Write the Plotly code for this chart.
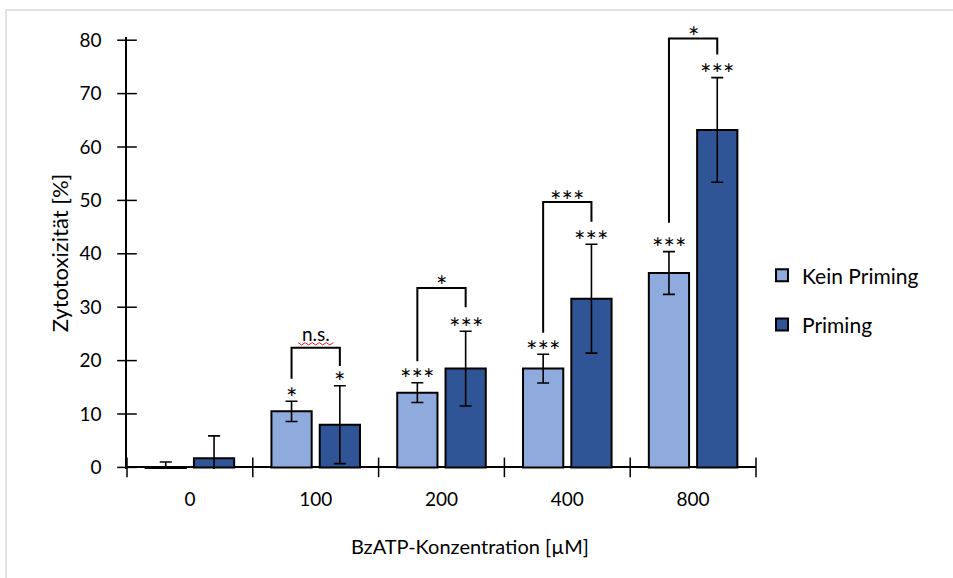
import numpy as np
import plotly.graph_objects as go

# --- data -------------------------------------------------------------
concentrations = ["0", "100", "200", "400", "800"]

kein_priming = [-0.2, 10.5, 14.0, 18.5, 36.4]
kein_priming_err = [1.2, 1.9, 1.85, 2.7, 4.0]
kein_priming_sig = ["", "*", "***", "***", "***"]

priming = [1.7, 8.0, 18.5, 31.6, 63.2]
priming_err = [4.2, 7.3, 7.0, 10.2, 9.8]
priming_sig = ["", "*", "***", "***", "***"]

# comparison brackets between the two series per concentration
bracket_left_end = [None, 16.6, 19.9, 25.2, 45.8]
bracket_right_end = [None, 19.0, 30.0, 46.0, 77.3]
bracket_top = [None, 22.4, 33.6, 49.7, 80.3]
bracket_label = ["", "n.s.", "*", "***", "*"]

y_ticks = [0, 10, 20, 30, 40, 50, 60, 70, 80]

# --- styling ----------------------------------------------------------
FONT = "Lato"
LIGHT = "#8FAADC"
DARK = "#2F5597"
BARGAP = 0.232
BARGROUPGAP = 0.167
OFFSET = (1 - BARGAP) / 4  # centre of each bar relative to group centre
STAR_SIZE = 27

W, H = 953, 578
M_L, M_R, M_T, M_B = 127, 197, 37, 109

x_pos = np.arange(len(concentrations))

plot_w = W - M_L - M_R
plot_h = H - M_T - M_B


def px_to_paper_x(px):
    return (px - M_L) / plot_w


def px_to_paper_y(py):
    return (H - M_B - py) / plot_h


fig = go.Figure()

err_style = dict(type="data", color="black", thickness=1.6, width=6)

fig.add_trace(go.Bar(
    x=x_pos, y=kein_priming, name="Kein Priming",
    marker=dict(color=LIGHT, line=dict(color="black", width=2)),
    error_y=dict(array=kein_priming_err, **err_style),
    legendgroup="a", hoverinfo="skip",
))
fig.add_trace(go.Bar(
    x=x_pos, y=priming, name="Priming",
    marker=dict(color=DARK, line=dict(color="black", width=2)),
    error_y=dict(array=priming_err, **err_style),
    legendgroup="b", hoverinfo="skip",
))

# significance brackets
for i in range(len(concentrations)):
    if bracket_top[i] is None:
        continue
    xl, xr = x_pos[i] - OFFSET, x_pos[i] + OFFSET
    fig.add_trace(go.Scatter(
        x=[xl, xl, xr, xr],
        y=[bracket_left_end[i], bracket_top[i], bracket_top[i], bracket_right_end[i]],
        mode="lines", line=dict(color="black", width=2),
        showlegend=False, hoverinfo="skip",
    ))
    if bracket_label[i] == "n.s.":
        fig.add_annotation(
            x=x_pos[i], y=bracket_top[i], text=bracket_label[i], showarrow=False,
            yanchor="bottom", yshift=1, font=dict(family=FONT, size=19, color="black"),
        )
        # spell-check style wavy underline beneath the label
        n = 11
        wx = x_pos[i] + np.linspace(-0.14, 0.14, n)
        wy = bracket_top[i] + 0.75 + np.where(np.arange(n) % 2 == 0, 0.22, -0.22)
        fig.add_trace(go.Scatter(
            x=wx, y=wy, mode="lines", line=dict(color="#E02020", width=1),
            showlegend=False, hoverinfo="skip",
        ))
    else:
        fig.add_annotation(
            x=x_pos[i], y=bracket_top[i], text=bracket_label[i], showarrow=False,
            yanchor="middle", yshift=2, font=dict(family=FONT, size=STAR_SIZE, color="black"),
        )

# significance marks above the error bars
for vals, errs, sig, sign in ((kein_priming, kein_priming_err, kein_priming_sig, -1),
                              (priming, priming_err, priming_sig, 1)):
    for i in range(len(concentrations)):
        if not sig[i]:
            continue
        fig.add_annotation(
            x=x_pos[i] + sign * OFFSET, y=vals[i] + errs[i], text=sig[i],
            showarrow=False, yanchor="middle", yshift=4,
            font=dict(family=FONT, size=STAR_SIZE, color="black"),
        )

# axis ticks crossing the axis lines
fig.add_trace(go.Scatter(
    x=[x_pos[0] - 0.5] * len(y_ticks), y=y_ticks, mode="markers",
    marker=dict(symbol="line-ew", size=14, line=dict(color="black", width=1.5)),
    cliponaxis=False, showlegend=False, hoverinfo="skip",
))
bounds = list(x_pos - 0.5) + [x_pos[-1] + 0.5]
fig.add_trace(go.Scatter(
    x=bounds, y=[0] * len(bounds), mode="markers",
    marker=dict(symbol="line-ns", size=14, line=dict(color="black", width=1.5)),
    cliponaxis=False, showlegend=False, hoverinfo="skip",
))

# light outer frame
fig.add_shape(
    type="rect", xref="paper", yref="paper",
    x0=px_to_paper_x(6), x1=px_to_paper_x(W + 10),
    y0=px_to_paper_y(H + 10), y1=px_to_paper_y(10),
    line=dict(color="#D9D9D9", width=1.5), fillcolor="rgba(0,0,0,0)", layer="below",
)

# x-axis title, centred on the chart area
fig.add_annotation(
    xref="paper", yref="paper", x=px_to_paper_x(470), y=px_to_paper_y(546),
    text="BzATP-Konzentration [µM]", showarrow=False,
    xanchor="center", yanchor="middle", font=dict(family=FONT, size=20, color="black"),
)

fig.update_layout(
    width=W, height=H,
    margin=dict(l=M_L, r=M_R, t=M_T, b=M_B),
    paper_bgcolor="white", plot_bgcolor="white",
    barmode="group", bargap=BARGAP, bargroupgap=BARGROUPGAP,
    font=dict(family=FONT, size=18, color="black"),
    showlegend=True,
    legend=dict(
        x=px_to_paper_x(762), xanchor="left", y=0.495, yanchor="top",
        font=dict(family=FONT, size=21, color="black"),
        tracegroupgap=19, bgcolor="rgba(0,0,0,0)",
    ),
    xaxis=dict(
        range=[-0.5, len(concentrations) - 0.5],
        tickvals=x_pos, ticktext=concentrations,
        ticks="", showline=False, showgrid=False, zeroline=False,
        ticklabelstandoff=17, tickfont=dict(size=19),
    ),
    yaxis=dict(
        range=[-0.3, 80.6],
        tickvals=y_ticks, ticks="", showline=True, linecolor="black", linewidth=1.5,
        showgrid=False, zeroline=True, zerolinecolor="black", zerolinewidth=1.5,
        ticklabelstandoff=20, tickfont=dict(size=19),
        title=dict(text="Zytotoxizität [%]", font=dict(size=22), standoff=5),
    ),
)

fig.write_html("out.html")
